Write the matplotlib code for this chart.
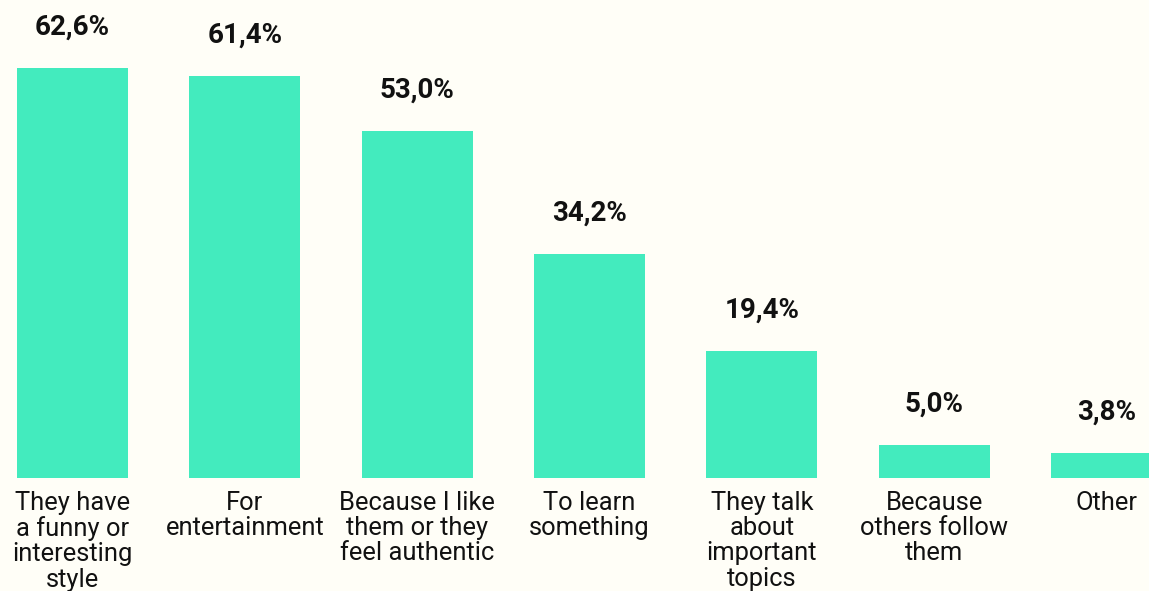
import matplotlib.pyplot as plt

# survey: why people follow creators
categories = [
    "They have\na funny or\ninteresting\nstyle",
    "For\nentertainment",
    "Because I like\nthem or they\nfeel authentic",
    "To learn\nsomething",
    "They talk\nabout\nimportant\ntopics",
    "Because\nothers follow\nthem",
    "Other",
]
values = [62.6, 61.4, 53.0, 34.2, 19.4, 5.0, 3.8]
value_labels = ["62,6%", "61,4%", "53,0%", "34,2%", "19,4%", "5,0%", "3,8%"]

BG = "#fffef7"
BAR = "#43ebbe"

plt.rcParams["font.family"] = ["Roboto", "DejaVu Sans"]

fig = plt.figure(figsize=(11.49, 5.91), dpi=100, facecolor=BG)
ax = fig.add_axes([0, 113 / 591, 1, 478 / 591])
ax.set_facecolor(BG)

x = list(range(len(values)))
ax.bar(x, values, width=0.644, color=BAR, zorder=2)

for xi, v, lab in zip(x, values, value_labels):
    ax.annotate(lab, (xi, v), xytext=(0, 24), textcoords="offset points",
                ha="center", va="baseline", fontsize=20, fontweight="bold",
                color="#111111")

for xi, cat in zip(x, categories):
    ax.annotate(cat, (xi, 0), xytext=(0, -9.5), textcoords="offset points",
                ha="center", va="top", fontsize=18.4, color="#111111",
                linespacing=1.06, annotation_clip=False)

ax.set_xlim(-0.4207, 6.2467)
ax.set_ylim(0, 73.0)
ax.axis("off")

fig.savefig("out.png", dpi=100, facecolor=BG)
